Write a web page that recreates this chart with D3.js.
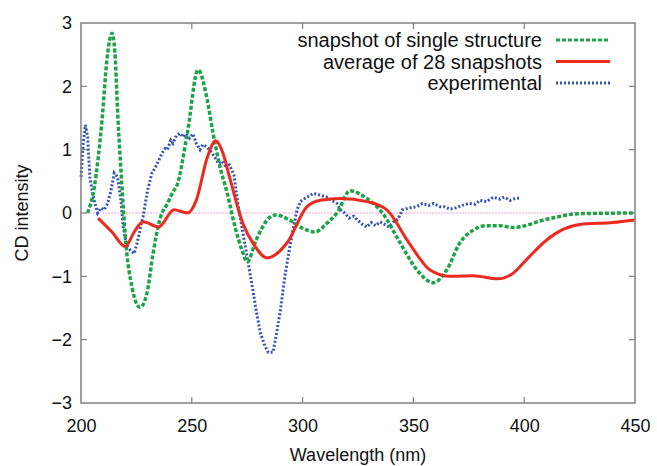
<!DOCTYPE html>
<html><head><meta charset="utf-8">
<script src="https://cdn.jsdelivr.net/npm/d3@7"></script>
<style>body{margin:0;background:#fff}svg{display:block}</style>
</head><body>
<script>
const xTicks = [200, 250, 300, 350, 400, 450];
const yTicks = [-3, -2, -1, 0, 1, 2, 3];
const seriesNames = ["snapshot of single structure", "average of 28 snapshots", "experimental"];

const singleX = [203,206,209.5,211.7,214,215.3,216.7,218.5,220,223,226.6,229.8,232.5,235.6,239,242,243,248,252.8,257,259.6,262.7,266,269.5,272.6,275,279,284,288,294,300,305.6,311,315.5,321.4,329,336,344,351.6,359,365,371,377,383,389,395,410,425,450];
const singleY = [0,0.41,1.47,2.42,2.84,2.53,1.47,0.41,-0.38,-1.17,-1.49,-1.26,-0.64,-0.1,0.15,0.36,0.41,1.26,2.26,1.78,1.26,0.73,0.31,-0.22,-0.58,-0.77,-0.43,-0.11,-0.03,-0.11,-0.24,-0.3,-0.16,0,0.35,0.23,0,-0.47,-0.9,-1.1,-0.9,-0.47,-0.27,-0.2,-0.2,-0.23,-0.1,-0.01,0];

const avgX = [207.7,214,220,224,228,235,242,248,252,257,260.8,264,267,273,278,284,293,302,308,317,329,338,348,357.5,366.5,377,388,395,402,410,417.5,425,440,450];
const avgY = [-0.08,-0.3,-0.53,-0.3,-0.14,-0.22,0.05,0,0.2,0.88,1.14,0.95,0.57,-0.16,-0.5,-0.71,-0.47,0.1,0.2,0.23,0.18,0.05,-0.47,-0.9,-1.0,-0.99,-1.04,-0.95,-0.7,-0.43,-0.26,-0.18,-0.15,-0.11];

const expX = [200,201,202,203,204,205,206,207.5,209,210.5,212,213.5,215,216.5,218,219,220,221,222.5,224,225.5,227,228,230,232,234,236.5,238,239,240.5,241.5,243,244.7,246,247.5,249,250.5,252,253.7,255,256.5,258,260,262,263.5,265,267,269,271,273,275,277,279,281,283,284.5,286.6,288,290,292,294,296,297.5,299,300.5,302,305,308,311,313,315.5,317,319,321,323,325,327,329,331,333,335,337,339,341,343,345,348,351.6,354,357,359,362,364,366.5,369,372,375,378,380,383,386,389,391,393.6,396,398,400];
const expY = [0.57,1.1,1.39,1.2,0.57,0.36,0.2,0,0.08,0.05,0.15,0.35,0.63,0.57,0.2,-0.22,-0.4,-0.53,-0.6,-0.64,-0.45,-0.2,-0.06,0.35,0.63,0.75,0.94,1.02,1.0,1.15,1.1,1.22,1.26,1.2,1.25,1.18,1.25,1.1,1.0,1.08,1.05,1.0,0.9,0.78,0.82,0.75,0.76,0.6,0.1,-0.3,-0.7,-1.1,-1.53,-1.9,-2.1,-2.2,-2.2,-1.95,-1.53,-1.0,-0.58,-0.2,0.05,0.18,0.22,0.25,0.31,0.28,0.25,0.2,0.15,0.05,0.0,-0.08,-0.05,-0.12,-0.18,-0.22,-0.15,-0.2,-0.14,-0.18,-0.22,-0.14,-0.1,0.05,0.08,0.1,0.15,0.12,0.15,0.1,0.1,0.06,0.08,0.12,0.15,0.14,0.2,0.18,0.25,0.22,0.25,0.2,0.23,0.24];

const W = 657, H = 466;
const m = {left: 81, right: 22, top: 23, bottom: 63};
const svg = d3.select("body").append("svg").attr("width", W).attr("height", H)
  .style("font-family", "'Liberation Sans', Arial, Helvetica, sans-serif");

const x = d3.scaleLinear().domain([200, 450]).range([m.left, W - m.right]);
const y = d3.scaleLinear().domain([-3, 3]).range([H - m.bottom, m.top]);

// zero line
svg.append("line").attr("x1", x(200)).attr("x2", x(450)).attr("y1", y(0)).attr("y2", y(0))
  .attr("stroke", "#f2a6d6").attr("stroke-width", 1).attr("stroke-dasharray", "2,1");

const fmt = d => d < 0 ? "\u2212" + Math.abs(d) : String(d);
const tickLen = 6;
const axisColor = "#808080";

// bottom axis
const gx = svg.append("g").attr("transform", `translate(0,${y(-3)})`)
  .call(d3.axisBottom(x).tickValues(xTicks).tickSize(0).tickPadding(16).tickFormat(d => d));
gx.select(".domain").remove();
gx.selectAll("text").attr("font-size", 18).attr("fill", "#111").attr("font-family", "'Liberation Sans', Arial, sans-serif");
// left axis
const gy = svg.append("g").attr("transform", `translate(${x(200)},0)`)
  .call(d3.axisLeft(y).tickValues(yTicks).tickSize(0).tickPadding(9).tickFormat(fmt));
gy.select(".domain").remove();
gy.selectAll("text").attr("font-size", 18).attr("fill", "#111").attr("font-family", "'Liberation Sans', Arial, sans-serif");

// inward ticks on all four sides
const tg = svg.append("g").attr("stroke", axisColor).attr("stroke-width", 1.2);
xTicks.slice(1, -1).forEach(t => {
  tg.append("line").attr("x1", x(t)).attr("x2", x(t)).attr("y1", y(-3)).attr("y2", y(-3) - tickLen);
  tg.append("line").attr("x1", x(t)).attr("x2", x(t)).attr("y1", y(3)).attr("y2", y(3) + tickLen);
});
yTicks.slice(1, -1).forEach(t => {
  tg.append("line").attr("x1", x(200)).attr("x2", x(200) + tickLen).attr("y1", y(t)).attr("y2", y(t));
  tg.append("line").attr("x1", x(450)).attr("x2", x(450) - tickLen).attr("y1", y(t)).attr("y2", y(t));
});

const line = d3.line().x(d => x(d[0])).y(d => y(d[1]));
const zip = (a, b) => a.map((v, i) => [v, b[i]]);

svg.append("path").datum(zip(expX, expY)).attr("fill", "none")
  .attr("stroke", "#3453b5").attr("stroke-width", 3).attr("stroke-dasharray", "2,2")
  .attr("d", line.curve(d3.curveLinear));
svg.append("path").datum(zip(singleX, singleY)).attr("fill", "none")
  .attr("stroke", "#1fa34a").attr("stroke-width", 3.5).attr("stroke-dasharray", "4,2")
  .attr("d", line.curve(d3.curveMonotoneX));
svg.append("path").datum(zip(avgX, avgY)).attr("fill", "none")
  .attr("stroke", "#ec2a1f").attr("stroke-width", 3)
  .attr("d", line.curve(d3.curveMonotoneX));

// frame
svg.append("rect").attr("x", x(200)).attr("y", y(3)).attr("width", x(450) - x(200)).attr("height", y(-3) - y(3))
  .attr("fill", "none").attr("stroke", axisColor).attr("stroke-width", 1.5);

// legend
const legStyles = [
  {stroke: "#1fa34a", dash: "4,2", w: 3},
  {stroke: "#ec2a1f", dash: null, w: 3},
  {stroke: "#3453b5", dash: "2,2", w: 3}
];
const lg = svg.append("g");
seriesNames.forEach((n, i) => {
  const yy = 40 + i * 21.5;
  lg.append("text").attr("x", 542).attr("y", yy).attr("dy", "0.35em").attr("text-anchor", "end")
    .attr("font-size", 20).attr("fill", "#111").text(n);
  lg.append("line").attr("x1", 556).attr("x2", 610).attr("y1", yy).attr("y2", yy)
    .attr("stroke", legStyles[i].stroke).attr("stroke-width", legStyles[i].w)
    .attr("stroke-dasharray", legStyles[i].dash);
});

// axis titles
svg.append("text").attr("x", (x(200) + x(450)) / 2).attr("y", 461).attr("text-anchor", "middle")
  .attr("font-size", 18).attr("fill", "#111").text("Wavelength (nm)");
svg.append("text").attr("transform", `translate(28,${y(0)}) rotate(-90)`).attr("text-anchor", "middle")
  .attr("font-size", 18).attr("fill", "#111").text("CD intensity");
</script>
</body></html>
